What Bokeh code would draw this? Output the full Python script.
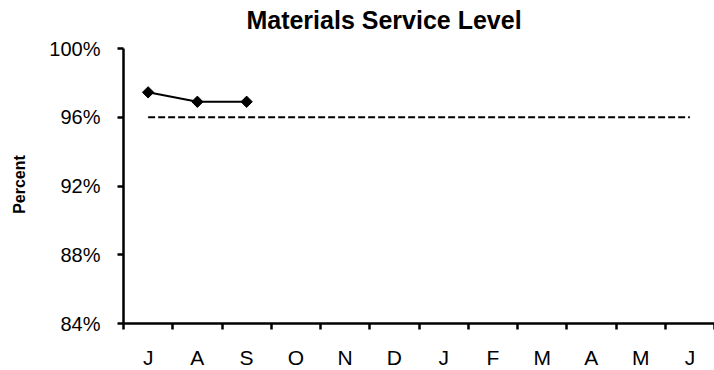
import math
from bokeh.plotting import figure
from bokeh.models import (Range1d, FixedTicker, PrintfTickFormatter, CustomJSTickFormatter,
                          ColumnDataSource, Label)
from bokeh.embed import file_html
from bokeh.resources import INLINE

# ---- data ----
months = ["J", "A", "S", "O", "N", "D", "J", "F", "M", "A", "M", "J"]
service_level = [97.45, 96.9, 96.9]          # percent, actual months reported
target_level = 96.0                           # percent
y_ticks = [84, 88, 92, 96, 100]
title_text = "Materials Service Level"
y_label = "Percent"

FONT = "Liberation Sans"

# ---- layout (pixels) ----
W, H = 714, 370
AX_LEFT = 123        # x of the y axis
AX_TOP = 48          # y of the 100% line
AX_BOTTOM = 323      # y of the x axis (84%)
n = len(months)
centers = [i + 0.5 for i in range(n)]
bounds = [i for i in range(n + 1)]
ymin, ymax = y_ticks[0], y_ticks[-1]

# the frame covers the whole canvas; both axes are pinned with fixed_location
px_per_x = (W - AX_LEFT) / n
x_start = -AX_LEFT / px_per_x
px_per_y = (AX_BOTTOM - AX_TOP) / (ymax - ymin)
y_end = ymax + AX_TOP / px_per_y
y_start = ymin - (H - AX_BOTTOM) / px_per_y


def px_to_x(px):
    return x_start + px / px_per_x


def py_to_y(py):
    return y_end - py / px_per_y


p = figure(width=W, height=H, output_backend="svg", toolbar_location=None,
           x_range=Range1d(x_start, n), y_range=Range1d(y_start, y_end),
           min_border_left=0, min_border_right=0, min_border_top=0, min_border_bottom=0)
p.outline_line_color = None
p.xgrid.visible = False
p.ygrid.visible = False
p.background_fill_color = "white"
p.border_fill_color = "white"

# x axis pinned at 84%: ticks at month boundaries, labels at centers
xa = p.xaxis[0]
xa.fixed_location = ymin
xa.bounds = (0, n)
xa.ticker = FixedTicker(ticks=centers, minor_ticks=bounds)
xa.formatter = CustomJSTickFormatter(args=dict(labels=months),
                                     code="return labels[Math.round(tick - 0.5)];")
xa.major_tick_out = 0
xa.major_tick_in = 0
xa.minor_tick_out = 6
xa.minor_tick_in = 0
xa.minor_tick_line_width = 2.5
xa.minor_tick_line_color = "black"
xa.axis_line_width = 2.5
xa.axis_line_color = "black"
xa.major_label_text_font = FONT
xa.major_label_text_font_size = "21px"
xa.major_label_text_color = "black"
xa.major_label_standoff = 16

# y axis pinned at x = 0, drawn only between 84% and 100%
ya = p.yaxis[0]
ya.fixed_location = 0
ya.bounds = (ymin, ymax)
ya.ticker = FixedTicker(ticks=y_ticks)
ya.formatter = PrintfTickFormatter(format="%d%%")
ya.major_tick_out = 6
ya.major_tick_in = 0
ya.major_tick_line_width = 2.5
ya.major_tick_line_color = "black"
ya.minor_tick_line_color = None
ya.axis_line_width = 2.5
ya.axis_line_color = "black"
ya.major_label_text_font = FONT
ya.major_label_text_font_size = "20px"
ya.major_label_text_color = "black"
ya.major_label_standoff = 17

# target dashed line
p.line(x=[centers[0], centers[-1]], y=[target_level, target_level],
       line_color="black", line_width=2, line_dash="7 3")

# actual series
src = ColumnDataSource(dict(x=centers[:len(service_level)], y=service_level))
p.line("x", "y", source=src, line_color="black", line_width=2)
p.scatter("x", "y", source=src, marker="square", angle=math.pi / 4, size=8,
          fill_color="black", line_color="black")

# title
p.add_layout(Label(x=px_to_x(383.5), y=py_to_y(19.5),
                   text=title_text, text_align="center", text_baseline="middle",
                   text_font=FONT, text_font_size="25px", text_font_style="bold",
                   text_color="black"))

# y axis title
p.add_layout(Label(x=px_to_x(19), y=py_to_y(184), angle=math.pi / 2,
                   text=y_label, text_align="center", text_baseline="middle",
                   text_font=FONT, text_font_size="16px", text_font_style="bold",
                   text_color="black"))

open("out.html", "w").write(file_html(p, INLINE))
